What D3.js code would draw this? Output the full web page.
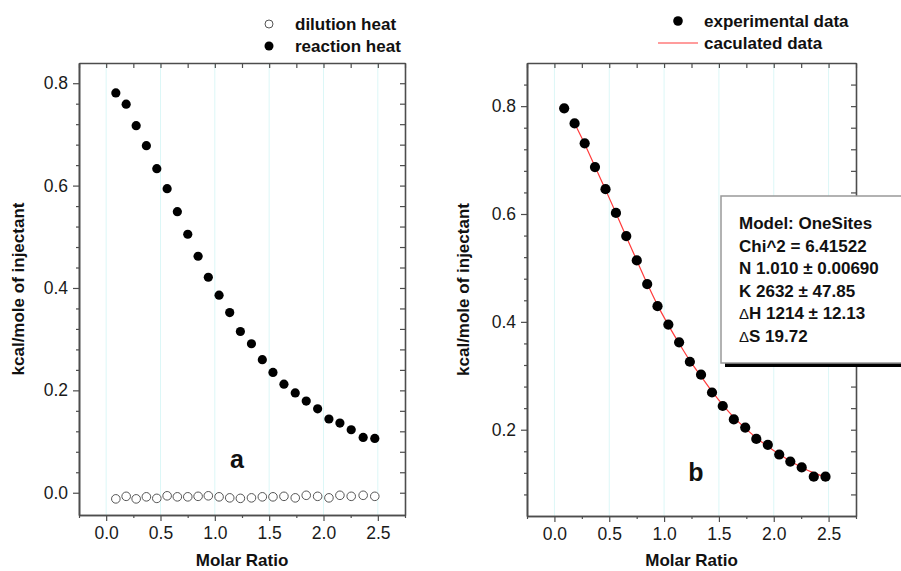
<!DOCTYPE html>
<html>
<head>
<meta charset="utf-8">
<script src="https://cdnjs.cloudflare.com/ajax/libs/d3/7.8.5/d3.min.js"></script>
<style>
    body { margin: 0; background: #fff; }
    svg { font-family: "Liberation Sans", Arial, sans-serif; }
    .axis path { stroke: #4d4d4d; stroke-width: 1.6; }
    .axis line { stroke: #4d4d4d; stroke-width: 1.2; }
    .axis text { font-size: 17.5px; fill: #1a1a1a; }
    .labels { font-size: 17px; font-weight: bold; fill: #111; }
</style>
</head>
<body>
<div id="chart"></div>
<script>
// molar ratio of each injection (shared by both panels)
var molarRatio = [0.089, 0.184, 0.276, 0.370, 0.466, 0.561, 0.655, 0.751, 0.846, 0.940,
    1.039, 1.137, 1.235, 1.337, 1.437, 1.535, 1.636, 1.740, 1.841, 1.946,
    2.050, 2.151, 2.255, 2.365, 2.472];

// panel a
var dilutionHeat = [-0.012, -0.007, -0.012, -0.008, -0.011, -0.006, -0.008, -0.008, -0.007, -0.006,
    -0.008, -0.010, -0.011, -0.010, -0.008, -0.008, -0.007, -0.010, -0.005, -0.007,
    -0.010, -0.005, -0.007, -0.005, -0.007];
var reactionHeat = [0.781, 0.759, 0.717, 0.678, 0.633, 0.594, 0.549, 0.505, 0.462, 0.421,
    0.386, 0.352, 0.315, 0.291, 0.260, 0.235, 0.212, 0.195, 0.179, 0.164,
    0.144, 0.136, 0.123, 0.108, 0.106];

// panel b
var experimentalData = [0.796, 0.768, 0.731, 0.687, 0.646, 0.602, 0.559, 0.514, 0.470, 0.429,
    0.395, 0.362, 0.326, 0.302, 0.269, 0.244, 0.219, 0.204, 0.183, 0.172,
    0.154, 0.141, 0.130, 0.113, 0.113];
// fit starts at the 2nd injection
var calculatedData = [0.768, 0.730, 0.688, 0.645, 0.602, 0.558, 0.514, 0.471, 0.431,
    0.394, 0.360, 0.328, 0.299, 0.271, 0.246, 0.223, 0.203, 0.185, 0.169,
    0.155, 0.142, 0.130, 0.120, 0.112];

var fitText = ["Model: OneSites", "Chi^2 = 6.41522", "N 1.010 \u00b1 0.00690",
    "K 2632 \u00b1 47.85", "\u0394H 1214 \u00b1 12.13", "\u0394S 19.72"];

// ticks
var xTicks = [0, 0.5, 1.0, 1.5, 2.0, 2.5];
var xMinorTicks = [-0.25, 0.25, 0.75, 1.25, 1.75, 2.25, 2.75];
var leftYTicks = [0, 0.2, 0.4, 0.6, 0.8];
var leftYMinor = [0.04, 0.08, 0.12, 0.16, 0.24, 0.28, 0.32, 0.36, 0.44, 0.48, 0.52, 0.56, 0.64, 0.68, 0.72, 0.76];
var rightYTicks = [0.2, 0.4, 0.6, 0.8];
var rightYMinor = [0.08, 0.12, 0.16, 0.24, 0.28, 0.32, 0.36, 0.44, 0.48, 0.52, 0.56, 0.64, 0.68, 0.72, 0.76, 0.84];


var svg = d3.select("#chart").append("svg")
    .attr("width", 901)
    .attr("height", 571);


Panel = function(_svg, _config){
    this.svg = _svg;
    this.config = _config;
    this.initVis();
};

Panel.prototype.initVis = function() {
    var vis = this;
    var c = vis.config;

    vis.x = d3.scaleLinear().domain([-0.25, 2.75]).range([c.left, c.right]);
    vis.y = d3.scaleLinear().domain(c.yDomain).range([c.bottom, c.top]);

    vis.g = vis.svg.append("g");

    // faint vertical grid
    vis.g.append("g").selectAll("line")
        .data(xTicks)
        .enter().append("line")
        .attr("x1", function(d){ return vis.x(d); })
        .attr("x2", function(d){ return vis.x(d); })
        .attr("y1", c.top)
        .attr("y2", c.bottom)
        .attr("stroke", "#dcf7f7")
        .attr("stroke-width", 1);

    var allX = xTicks.concat(xMinorTicks);
    var allY = c.yTicks.concat(c.yMinor);

    // bottom
    vis.g.append("g").attr("class", "axis")
        .attr("transform", "translate(0," + c.bottom + ")")
        .call(d3.axisBottom(vis.x).tickValues(xTicks).tickSizeInner(6).tickSizeOuter(0)
            .tickPadding(6).tickFormat(d3.format(".1f")));
    vis.g.append("g").attr("class", "axis")
        .attr("transform", "translate(0," + c.bottom + ")")
        .call(d3.axisBottom(vis.x).tickValues(xMinorTicks).tickSizeInner(3).tickSizeOuter(0).tickFormat(""));
    // top (inward)
    vis.g.append("g").attr("class", "axis")
        .attr("transform", "translate(0," + c.top + ")")
        .call(d3.axisTop(vis.x).tickValues(allX).tickSizeInner(-5).tickSizeOuter(0).tickFormat(""));
    // left
    vis.g.append("g").attr("class", "axis")
        .attr("transform", "translate(" + c.left + ",0)")
        .call(d3.axisLeft(vis.y).tickValues(c.yTicks).tickSizeInner(6).tickSizeOuter(0)
            .tickPadding(5).tickFormat(d3.format(".1f")));
    vis.g.append("g").attr("class", "axis")
        .attr("transform", "translate(" + c.left + ",0)")
        .call(d3.axisLeft(vis.y).tickValues(c.yMinor).tickSizeInner(3).tickSizeOuter(0).tickFormat(""));
    // right (inward)
    vis.g.append("g").attr("class", "axis")
        .attr("transform", "translate(" + c.right + ",0)")
        .call(d3.axisRight(vis.y).tickValues(allY).tickSizeInner(-5).tickSizeOuter(0).tickFormat(""));

    // axis titles
    vis.g.append("text")
        .attr("class", "labels")
        .attr("x", (c.left + c.right) / 2)
        .attr("y", 566)
        .attr("text-anchor", "middle")
        .text("Molar Ratio");
    vis.g.append("text")
        .attr("class", "labels")
        .attr("transform", "rotate(-90)")
        .attr("x", -(c.top + c.bottom) / 2)
        .attr("y", c.titleX)
        .attr("text-anchor", "middle")
        .text("kcal/mole of injectant");

    // panel letter
    vis.g.append("text")
        .attr("x", c.letterX)
        .attr("y", c.letterY)
        .attr("text-anchor", "middle")
        .attr("font-size", "25px")
        .attr("font-weight", "bold")
        .attr("fill", "#111")
        .text(c.letter);
};

Panel.prototype.dots = function(values, r, fill, stroke) {
    var vis = this;
    vis.g.append("g").selectAll("circle")
        .data(values)
        .enter().append("circle")
        .attr("cx", function(d, i){ return vis.x(molarRatio[i]); })
        .attr("cy", function(d){ return vis.y(d); })
        .attr("r", r)
        .attr("fill", fill)
        .attr("stroke", stroke)
        .attr("stroke-width", 1);
};


// ---- panel a ----
var panelA = new Panel(svg, {
    left: 79, right: 405, top: 63, bottom: 515,
    yDomain: [-0.0435, 0.8395],
    yTicks: leftYTicks, yMinor: leftYMinor,
    titleX: 24, letter: "a", letterX: 237, letterY: 468
});
panelA.dots(dilutionHeat, 4.3, "#fff", "#555");
panelA.dots(reactionHeat, 4.6, "#000", "none");

// legend a
svg.append("circle").attr("cx", 269).attr("cy", 24).attr("r", 4)
    .attr("fill", "#fff").attr("stroke", "#555");
svg.append("circle").attr("cx", 269).attr("cy", 46).attr("r", 4.5).attr("fill", "#000");
svg.append("text").attr("class", "labels").attr("x", 295).attr("y", 30).text("dilution heat");
svg.append("text").attr("class", "labels").attr("x", 295).attr("y", 52).text("reaction heat");


// ---- panel b ----
var panelB = new Panel(svg, {
    left: 527, right: 856, top: 63, bottom: 516,
    yDomain: [0.04, 0.88],
    yTicks: rightYTicks, yMinor: rightYMinor,
    titleX: 469, letter: "b", letterX: 696, letterY: 481
});

var line = d3.line()
    .x(function(d, i){ return panelB.x(molarRatio[i + 1]); })
    .y(function(d){ return panelB.y(d); })
    .curve(d3.curveMonotoneX);

panelB.g.append("path")
    .datum(calculatedData)
    .attr("d", line)
    .attr("fill", "none")
    .attr("stroke", "#ff3b3b")
    .attr("stroke-width", 1.2);

panelB.dots(experimentalData, 5.1, "#000", "none");

// legend b
svg.append("circle").attr("cx", 678).attr("cy", 21).attr("r", 4.8).attr("fill", "#000");
svg.append("line").attr("x1", 658).attr("x2", 698).attr("y1", 43).attr("y2", 43)
    .attr("stroke", "#ff3b3b").attr("stroke-width", 1.2);
svg.append("text").attr("class", "labels").attr("x", 704).attr("y", 27).text("experimental data");
svg.append("text").attr("class", "labels").attr("x", 704).attr("y", 49).text("caculated data");

// fit result box
svg.append("rect").attr("x", 725).attr("y", 200).attr("width", 200).attr("height", 167)
    .attr("fill", "#000");
svg.append("rect").attr("x", 721).attr("y", 196).attr("width", 200).attr("height", 167)
    .attr("fill", "#fff").attr("stroke", "#999").attr("stroke-width", 1.5);

svg.append("g").selectAll("text")
    .data(fitText)
    .enter().append("text")
    .attr("class", "labels")
    .attr("x", 739)
    .attr("y", function(d, i){ return 229 + i * 22.6; })
    .each(function(d){
        var t = d3.select(this);
        if (d.charAt(0) === "\u0394") {
            t.append("tspan").attr("font-weight", "normal").attr("font-size", "15px").text("\u0394");
            t.append("tspan").text(d.slice(1));
        } else {
            t.text(d);
        }
    });
</script>
</body>
</html>
